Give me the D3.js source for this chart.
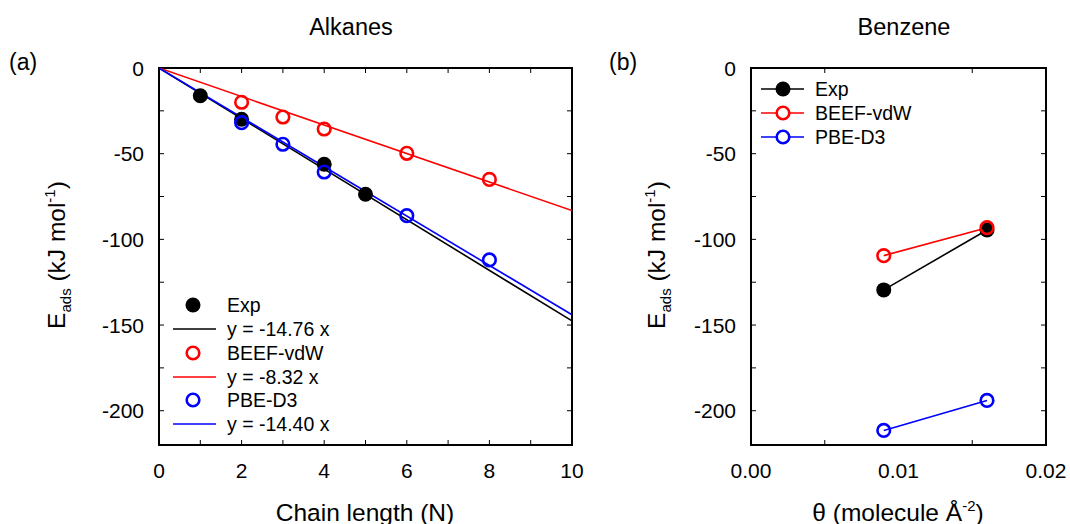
<!DOCTYPE html>
<html><head><meta charset="utf-8">
<script src="https://cdn.jsdelivr.net/npm/d3@7"></script>
<style>body{margin:0;background:#fff}svg{display:block}text{font-family:"Liberation Sans",Arial,sans-serif;fill:#000}</style>
</head><body>
<svg id="c" width="1070" height="524"></svg>
<script>
// Panel (a) data: alkanes
const expN = [1, 2, 4, 5];
const expE = [-16.2, -29.9, -56.2, -73.7];
const beefN = [2, 3, 4, 6, 8];
const beefE = [-20.0, -28.6, -35.6, -49.8, -65.0];
const pbeN = [2, 3, 4, 6, 8];
const pbeE = [-31.9, -44.5, -60.7, -86.2, -112.0];
const fitSlopes = [-14.76, -8.32, -14.40];
const fitLabels = ["y = -14.76 x", "y = -8.32 x", "y = -14.40 x"];
const seriesNames = ["Exp", "BEEF-vdW", "PBE-D3"];
// Panel (b) data: benzene
const theta = [0.009, 0.016];
const benzExp = [-129.5, -94.5];
const benzBeef = [-109.5, -93.2];
const benzPbe = [-211.5, -194.0];
const xTicksA = [0, 2, 4, 6, 8, 10];
const yTicks = [0, -50, -100, -150, -200];
const xTicksB = [0, 0.01, 0.02];

const colors = ["#000000", "#ff0000", "#0000ff"];
const svg = d3.select("#c");

function frame(g, x, y, majX, minX, majY, minY, fmtX) {
  const [x0, x1] = x.range(), [y0, y1] = y.range();
  g.append("rect").attr("x", x0).attr("y", y1).attr("width", x1 - x0).attr("height", y0 - y1)
    .attr("fill", "none").attr("stroke", "#000").attr("stroke-width", 2);
  const tl = 5;
  minX.forEach(v => {
    g.append("line").attr("x1", x(v)).attr("x2", x(v)).attr("y1", y0).attr("y2", y0 - tl).attr("stroke", "#000").attr("stroke-width", 1);
    g.append("line").attr("x1", x(v)).attr("x2", x(v)).attr("y1", y1).attr("y2", y1 + tl).attr("stroke", "#000").attr("stroke-width", 1);
  });
  minY.forEach(v => {
    g.append("line").attr("y1", y(v)).attr("y2", y(v)).attr("x1", x0).attr("x2", x0 + tl).attr("stroke", "#000").attr("stroke-width", 1);
    g.append("line").attr("y1", y(v)).attr("y2", y(v)).attr("x1", x1).attr("x2", x1 - tl).attr("stroke", "#000").attr("stroke-width", 1);
  });
  majX.forEach(v => g.append("text").attr("x", x(v)).attr("y", y0 + 33).attr("text-anchor", "middle")
    .attr("font-size", 21).text(fmtX(v)));
  majY.forEach(v => g.append("text").attr("x", x0 - 15).attr("y", y(v) + 7.5).attr("text-anchor", "end")
    .attr("font-size", 21).text(v));
}

function ylabel(g, cx, cy) {
  const t = g.append("text").attr("transform", `translate(${cx},${cy}) rotate(-90)`).attr("text-anchor", "middle").attr("font-size", 24.5);
  t.append("tspan").text("E");
  t.append("tspan").attr("font-size", 15).attr("dy", 6).text("ads");
  t.append("tspan").attr("dy", -6).text(" (kJ mol");
  t.append("tspan").attr("font-size", 15).attr("dy", -10).text("-1");
  t.append("tspan").attr("dy", 10).text(")");
}

// ---------- Panel (a)
const xa = d3.scaleLinear().domain([0, 10]).range([159, 572]);
const ya = d3.scaleLinear().domain([-220, 0]).range([445, 68]);
const ga = svg.append("g");
frame(ga, xa, ya, xTicksA, d3.range(1, 10), yTicks, d3.range(-25, -220, -25), d3.format("d"));

ga.append("clipPath").attr("id", "clipA").append("rect")
  .attr("x", 159).attr("y", 68).attr("width", 413).attr("height", 377);
fitSlopes.forEach((s, i) => {
  ga.append("line").attr("clip-path", "url(#clipA)")
    .attr("x1", xa(0)).attr("y1", ya(0)).attr("x2", xa(10)).attr("y2", ya(s * 10))
    .attr("stroke", colors[i]).attr("stroke-width", 1.6);
});
const ptsA = [[expN, expE], [beefN, beefE], [pbeN, pbeE]];
ptsA.forEach(([xs, ys], i) => {
  xs.forEach((xv, j) => {
    const c = ga.append("circle").attr("cx", xa(xv)).attr("cy", ya(ys[j])).attr("r", i === 0 ? 7.5 : 6.3);
    if (i === 0) c.attr("fill", "#000");
    else c.attr("fill", "none").attr("stroke", colors[i]).attr("stroke-width", 2.6);
  });
});
// legend (a)
const legRowsA = [305, 329, 353, 377, 400, 424];
seriesNames.forEach((n, i) => {
  const ym = legRowsA[2 * i], yl = legRowsA[2 * i + 1];
  const c = ga.append("circle").attr("cx", 193).attr("cy", ym).attr("r", i === 0 ? 7.5 : 6.3);
  if (i === 0) c.attr("fill", "#000"); else c.attr("fill", "none").attr("stroke", colors[i]).attr("stroke-width", 2.6);
  ga.append("text").attr("x", 227).attr("y", ym + 7).attr("font-size", 19.5).text(n);
  ga.append("line").attr("x1", 173).attr("x2", 216).attr("y1", yl).attr("y2", yl).attr("stroke", colors[i]).attr("stroke-width", 1.6);
  ga.append("text").attr("x", 227).attr("y", yl + 7).attr("font-size", 19.5).text(fitLabels[i]);
});
ga.append("text").attr("x", 351).attr("y", 35).attr("text-anchor", "middle").attr("font-size", 23.5).text("Alkanes");
ga.append("text").attr("x", 9).attr("y", 70).attr("font-size", 23).text("(a)");
ga.append("text").attr("x", 365).attr("y", 521).attr("text-anchor", "middle").attr("font-size", 24.5).text("Chain length (N)");
ylabel(ga, 65, 255);

// ---------- Panel (b)
const xb = d3.scaleLinear().domain([0, 0.02]).range([751, 1046]);
const yb = d3.scaleLinear().domain([-220, 0]).range([445, 68]);
const gb = svg.append("g");
frame(gb, xb, yb, xTicksB, [0.005, 0.015], yTicks, d3.range(-25, -220, -25), d3.format(".2f"));
const seriesB = [benzExp, benzBeef, benzPbe];
const lineB = d3.line().x((d, j) => xb(theta[j])).y(d => yb(d));
seriesB.forEach((ys, i) => {
  gb.append("path").attr("d", lineB(ys)).attr("fill", "none").attr("stroke", colors[i]).attr("stroke-width", 1.6);
});
[2, 0, 1].forEach(i => {
  seriesB[i].forEach((v, j) => {
    const c = gb.append("circle").attr("cx", xb(theta[j])).attr("cy", yb(v)).attr("r", i === 0 ? 7.5 : 6.3);
    if (i === 0) c.attr("fill", "#000"); else c.attr("fill", "none").attr("stroke", colors[i]).attr("stroke-width", 2.6);
  });
});
const legRowsB = [89, 113, 137];
seriesNames.forEach((n, i) => {
  const y = legRowsB[i];
  gb.append("line").attr("x1", 761).attr("x2", 804).attr("y1", y).attr("y2", y).attr("stroke", colors[i]).attr("stroke-width", 1.6);
  const c = gb.append("circle").attr("cx", 783).attr("cy", y).attr("r", i === 0 ? 7.5 : 6.3);
  if (i === 0) c.attr("fill", "#000"); else c.attr("fill", "#fff").attr("stroke", colors[i]).attr("stroke-width", 2.6);
  gb.append("text").attr("x", 815).attr("y", y + 7).attr("font-size", 19.5).text(n);
});
gb.append("text").attr("x", 904).attr("y", 35).attr("text-anchor", "middle").attr("font-size", 23.5).text("Benzene");
gb.append("text").attr("x", 609).attr("y", 70).attr("font-size", 23).text("(b)");
const tb = gb.append("text").attr("x", 898).attr("y", 521).attr("text-anchor", "middle").attr("font-size", 24.5);
tb.append("tspan").text("θ (molecule Å");
tb.append("tspan").attr("font-size", 15).attr("dy", -10).text("-2");
tb.append("tspan").attr("dy", 10).text(")");
ylabel(gb, 665, 255);
</script>
</body></html>
